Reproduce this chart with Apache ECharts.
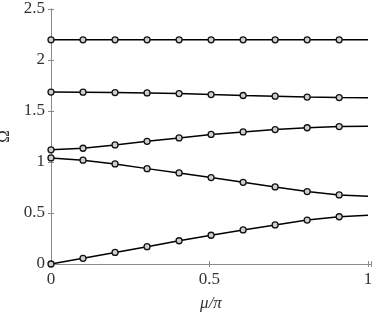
<!DOCTYPE html>
<html>
<head>
<meta charset="utf-8">
<script src="https://cdn.jsdelivr.net/npm/echarts@6/dist/echarts.min.js"></script>
<style>html,body{margin:0;padding:0;background:#fff}#c{width:374px;height:315px}</style>
</head>
<body>
<div id="c"></div>
<script>
// mu/pi sample positions (markers every 10th of 100 samples) plus line end
var muValues = [0, 10/99, 20/99, 30/99, 40/99, 50/99, 60/99, 70/99, 80/99, 90/99, 1];
var omega1 = [2.198, 2.198, 2.198, 2.198, 2.198, 2.198, 2.198, 2.198, 2.198, 2.198, 2.198];
var omega2 = [1.686, 1.685, 1.681, 1.677, 1.671, 1.661, 1.652, 1.645, 1.637, 1.632, 1.630];
var omega3 = [1.119, 1.135, 1.167, 1.203, 1.236, 1.270, 1.295, 1.318, 1.336, 1.347, 1.350];
var omega4 = [1.040, 1.018, 0.981, 0.935, 0.893, 0.847, 0.801, 0.756, 0.710, 0.677, 0.664];
var omega5 = [0.000, 0.056, 0.113, 0.170, 0.228, 0.282, 0.334, 0.383, 0.431, 0.463, 0.478];
var yTicks = [0, 0.5, 1, 1.5, 2, 2.5];
var xTicks = [0, 0.5, 1];

var allSeries = [omega1, omega2, omega3, omega4, omega5];
function build(vals) {
  return vals.map(function (v, i) {
    var item = { value: [muValues[i], v] };
    if (i === muValues.length - 1) item.symbol = 'none';
    return item;
  });
}
var font = 'Liberation Serif';
var axisCol = '#8a8a8a';
var txtCol = '#333';
var chart = echarts.init(document.getElementById('c'), null, { renderer: 'canvas' });
chart.setOption({
  animation: false,
  backgroundColor: '#fff',
  grid: { left: 51, right: 3, top: 9, bottom: 51, containLabel: false, outerBoundsMode: 'none' },
  xAxis: [{
    type: 'value', min: 0, max: 1.0095, interval: 0.5, position: 'bottom',
    name: 'μ/π', nameLocation: 'middle', nameGap: 31,
    nameTextStyle: { fontFamily: font, fontStyle: 'italic', fontSize: 17, color: txtCol },
    axisLine: { show: true, lineStyle: { color: axisCol, width: 1 } },
    axisTick: { show: true, inside: true, length: 3, lineStyle: { color: axisCol } },
    axisLabel: { fontFamily: font, fontSize: 17, color: txtCol, margin: 7,
      formatter: function (v) { return Math.abs(v * 2 - Math.round(v * 2)) < 1e-6 && xTicks.indexOf(Math.round(v * 2) / 2) >= 0 ? String(v) : ''; } },
    splitLine: { show: false }
  }, {
    type: 'value', min: 0, max: 1.0095, interval: 0.5, position: 'top',
    axisLine: { show: true, lineStyle: { color: axisCol, width: 1 } },
    axisTick: { show: true, inside: true, length: 3, lineStyle: { color: axisCol } },
    axisLabel: { show: false }, splitLine: { show: false }
  }],
  yAxis: [{
    type: 'value', min: 0, max: 2.5, interval: 0.5, position: 'left',
    name: 'Ω', nameLocation: 'middle', nameGap: 34, nameRotate: 90,
    nameTextStyle: { fontFamily: font, fontSize: 17, color: txtCol },
    axisLine: { show: true, lineStyle: { color: axisCol, width: 1 } },
    axisTick: { show: true, inside: true, length: 3, lineStyle: { color: axisCol } },
    axisLabel: { fontFamily: font, fontSize: 17, color: txtCol, margin: 6,
      formatter: function (v) { return yTicks.indexOf(v) >= 0 ? String(v) : ''; } },
    splitLine: { show: false }
  }, {
    type: 'value', min: 0, max: 2.5, interval: 0.5, position: 'right',
    axisLine: { show: true, lineStyle: { color: axisCol, width: 1 } },
    axisTick: { show: true, inside: true, length: 3, lineStyle: { color: axisCol } },
    axisLabel: { show: false }, splitLine: { show: false }
  }],
  series: allSeries.map(function (s) {
    return {
      type: 'line', xAxisIndex: 0, yAxisIndex: 0,
      data: build(s),
      showAllSymbol: true,
      symbol: 'circle', symbolSize: 6,
      itemStyle: { color: '#cfcfcf', borderColor: '#111', borderWidth: 1.3 },
      lineStyle: { color: '#000', width: 1.5 },
      z: 3
    };
  })
});
</script>
</body>
</html>
